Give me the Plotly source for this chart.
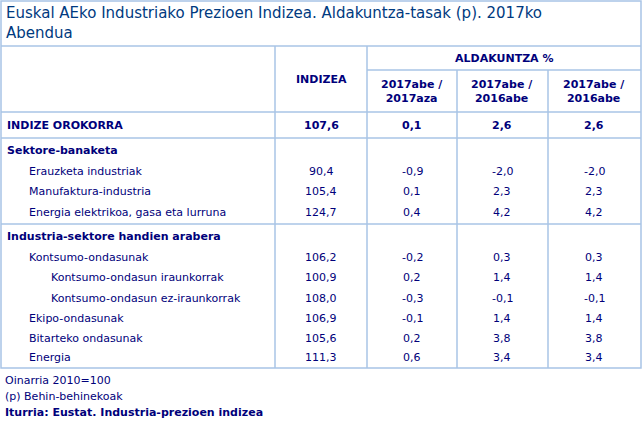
import plotly.graph_objects as go

# row data
labels = ["Erauzketa industriak", "Manufaktura-industria", "Energia elektrikoa, gasa eta lurruna",
          "Kontsumo-ondasunak", "Kontsumo-ondasun iraunkorrak", "Kontsumo-ondasun ez-iraunkorrak",
          "Ekipo-ondasunak", "Bitarteko ondasunak", "Energia"]
levels = [1, 1, 1, 1, 2, 2, 1, 1, 1]
indizea = ["90,4", "105,4", "124,7", "106,2", "100,9", "108,0", "106,9", "105,6", "111,3"]
hil = ["-0,9", "0,1", "0,4", "-0,2", "0,2", "-0,3", "-0,1", "0,2", "0,6"]
urte = ["-2,0", "2,3", "4,2", "0,3", "1,4", "-0,1", "1,4", "3,8", "3,4"]
metatua = ["-2,0", "2,3", "4,2", "0,3", "1,4", "-0,1", "1,4", "3,8", "3,4"]
total = ["INDIZE OROKORRA", "107,6", "0,1", "2,6", "2,6"]
sections = ["Sektore-banaketa", "Industria-sektore handien arabera"]
col_heads = ["2017abe /<br>2017aza", "2017abe /<br>2016abe", "2017abe /<br>2016abe"]
title = "Euskal AEko Industriako Prezioen Indizea. Aldakuntza-tasak (p). 2017ko<br>Abendua"
notes = ["Oinarria 2010=100", "(p) Behin-behinekoak", "<b>Iturria: Eustat. Industria-prezioen indizea</b>"]

TXT = "#00007a"
LINE = "#a8c4e6"
FONT = "DejaVu Sans"

fig = go.Figure()
shapes = []
ann = []

def line(x0, y0, x1, y1):
    shapes.append(dict(type="line", x0=x0, y0=y0, x1=x1, y1=y1, line=dict(color=LINE, width=1.5)))

def text(x, y, s, anchor="left", bold=False, size=11):
    ann.append(dict(x=x, y=y, text=f"<b>{s}</b>" if bold else s, showarrow=False,
                    xanchor=anchor, yanchor="middle", font=dict(family=FONT, size=size, color=TXT)))

# frame
shapes.append(dict(type="rect", x0=1, y0=1, x1=641, y1=368, line=dict(color=LINE, width=1.5)))
line(1, 46, 641, 46)
line(367, 70, 641, 70)
line(1, 112, 641, 112)
line(1, 138, 641, 138)
line(1, 224, 641, 224)
for x in [275, 367]:
    line(x, 46, x, 368)
for x in [457, 548]:
    line(x, 70, x, 368)

ann.append(dict(x=4, y=23, text=title, showarrow=False, xanchor="left", yanchor="middle", align="left",
                font=dict(family=FONT, size=15, color="#003a80")))

centers = [321, 412, 502, 594]
text(321, 79, "INDIZEA", "center", True)
text(504, 58, "ALDAKUNTZA %", "center", True)
for c, h in zip(centers[1:], col_heads):
    ann.append(dict(x=c, y=91, text=f"<b>{h}</b>", showarrow=False, xanchor="center", yanchor="middle",
                    font=dict(family=FONT, size=11, color=TXT)))

text(5, 125, total[0], bold=True)
for c, v in zip(centers, total[1:]):
    text(c, 125, v, "center", True)

text(5, 150, sections[0], bold=True)
text(5, 236, sections[1], bold=True)

ys = [171, 191, 212, 257, 277, 298, 318, 338, 357]
for i, y in enumerate(ys):
    text(5 + 22 * levels[i], y, labels[i])
    for c, v in zip(centers, [indizea[i], hil[i], urte[i], metatua[i]]):
        text(c, y, v, "center")

for y, n in zip([380, 396, 412], notes):
    text(3, y, n)

fig.update_layout(width=644, height=423, margin=dict(l=0, r=0, t=0, b=0),
                  paper_bgcolor="white", plot_bgcolor="white",
                  xaxis=dict(range=[0, 644], visible=False, fixedrange=True),
                  yaxis=dict(range=[423, 0], visible=False, fixedrange=True),
                  shapes=shapes, annotations=ann, showlegend=False)
fig.write_html("out.html", post_script="document.body.style.margin='0';",
               config={"displayModeBar": False})
